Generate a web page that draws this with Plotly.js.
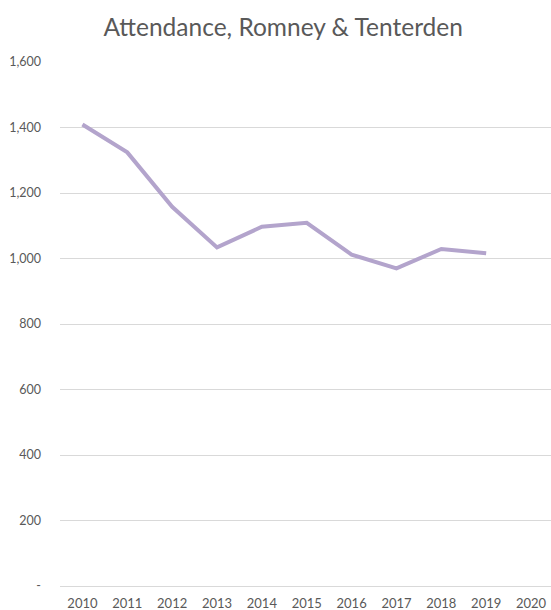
<!DOCTYPE html>
<html><head><meta charset="utf-8">
<script src="https://cdn.plot.ly/plotly-3.0.1.min.js"></script>
<style>html,body{margin:0;padding:0;background:#fff}#chart{width:551px;height:610px}</style>
</head><body><div id="chart"></div>
<script>
const years = ['2010','2011','2012','2013','2014','2015','2016','2017','2018','2019','2020'];
const attendance = [1409, 1324, 1158, 1034, 1097, 1109, 1012, 970, 1029, 1016, null];
const yTickVals = [0, 200, 400, 600, 800, 1000, 1200, 1400, 1600];
const yTickText = ['-', '200', '400', '600', '800', '1,000', '1,200', '1,400', '1,600'];

const trace = {
  x: years, y: attendance, type: 'scatter', mode: 'lines',
  line: {color: '#b3a4cc', width: 4}, connectgaps: false, hoverinfo: 'skip'
};
const layout = {
  width: 551, height: 610,
  margin: {l: 59.5, r: 0, t: 62, b: 23.5},
  paper_bgcolor: '#fff', plot_bgcolor: '#fff',
  font: {family: 'Lato, "Open Sans", sans-serif', color: '#595959', size: 12},
  showlegend: false,
  title: {text: 'Attendance, Romney & Tenterden', x: 0.514, xanchor: 'center', y: 0.955, yanchor: 'middle',
          font: {size: 24.5, color: '#595959'}},
  xaxis: {type: 'category', range: [-0.5, 10.445], showgrid: false, zeroline: false, showline: false,
          ticks: '', tickfont: {size: 13, color: '#595959'}, ticklabelstandoff: 8, fixedrange: true},
  yaxis: {range: [0, 1600], tickvals: yTickVals, ticktext: yTickText, showgrid: true,
          gridcolor: '#d9d9d9', gridwidth: 1, zeroline: true, zerolinecolor: '#d9d9d9', zerolinewidth: 1,
          showline: false, ticks: '', ticklabelstandoff: 18, tickfont: {size: 12.5, color: '#595959'}, fixedrange: true}
};
Plotly.newPlot('chart', [trace], layout, {displayModeBar: false, staticPlot: true});
</script></body></html>
